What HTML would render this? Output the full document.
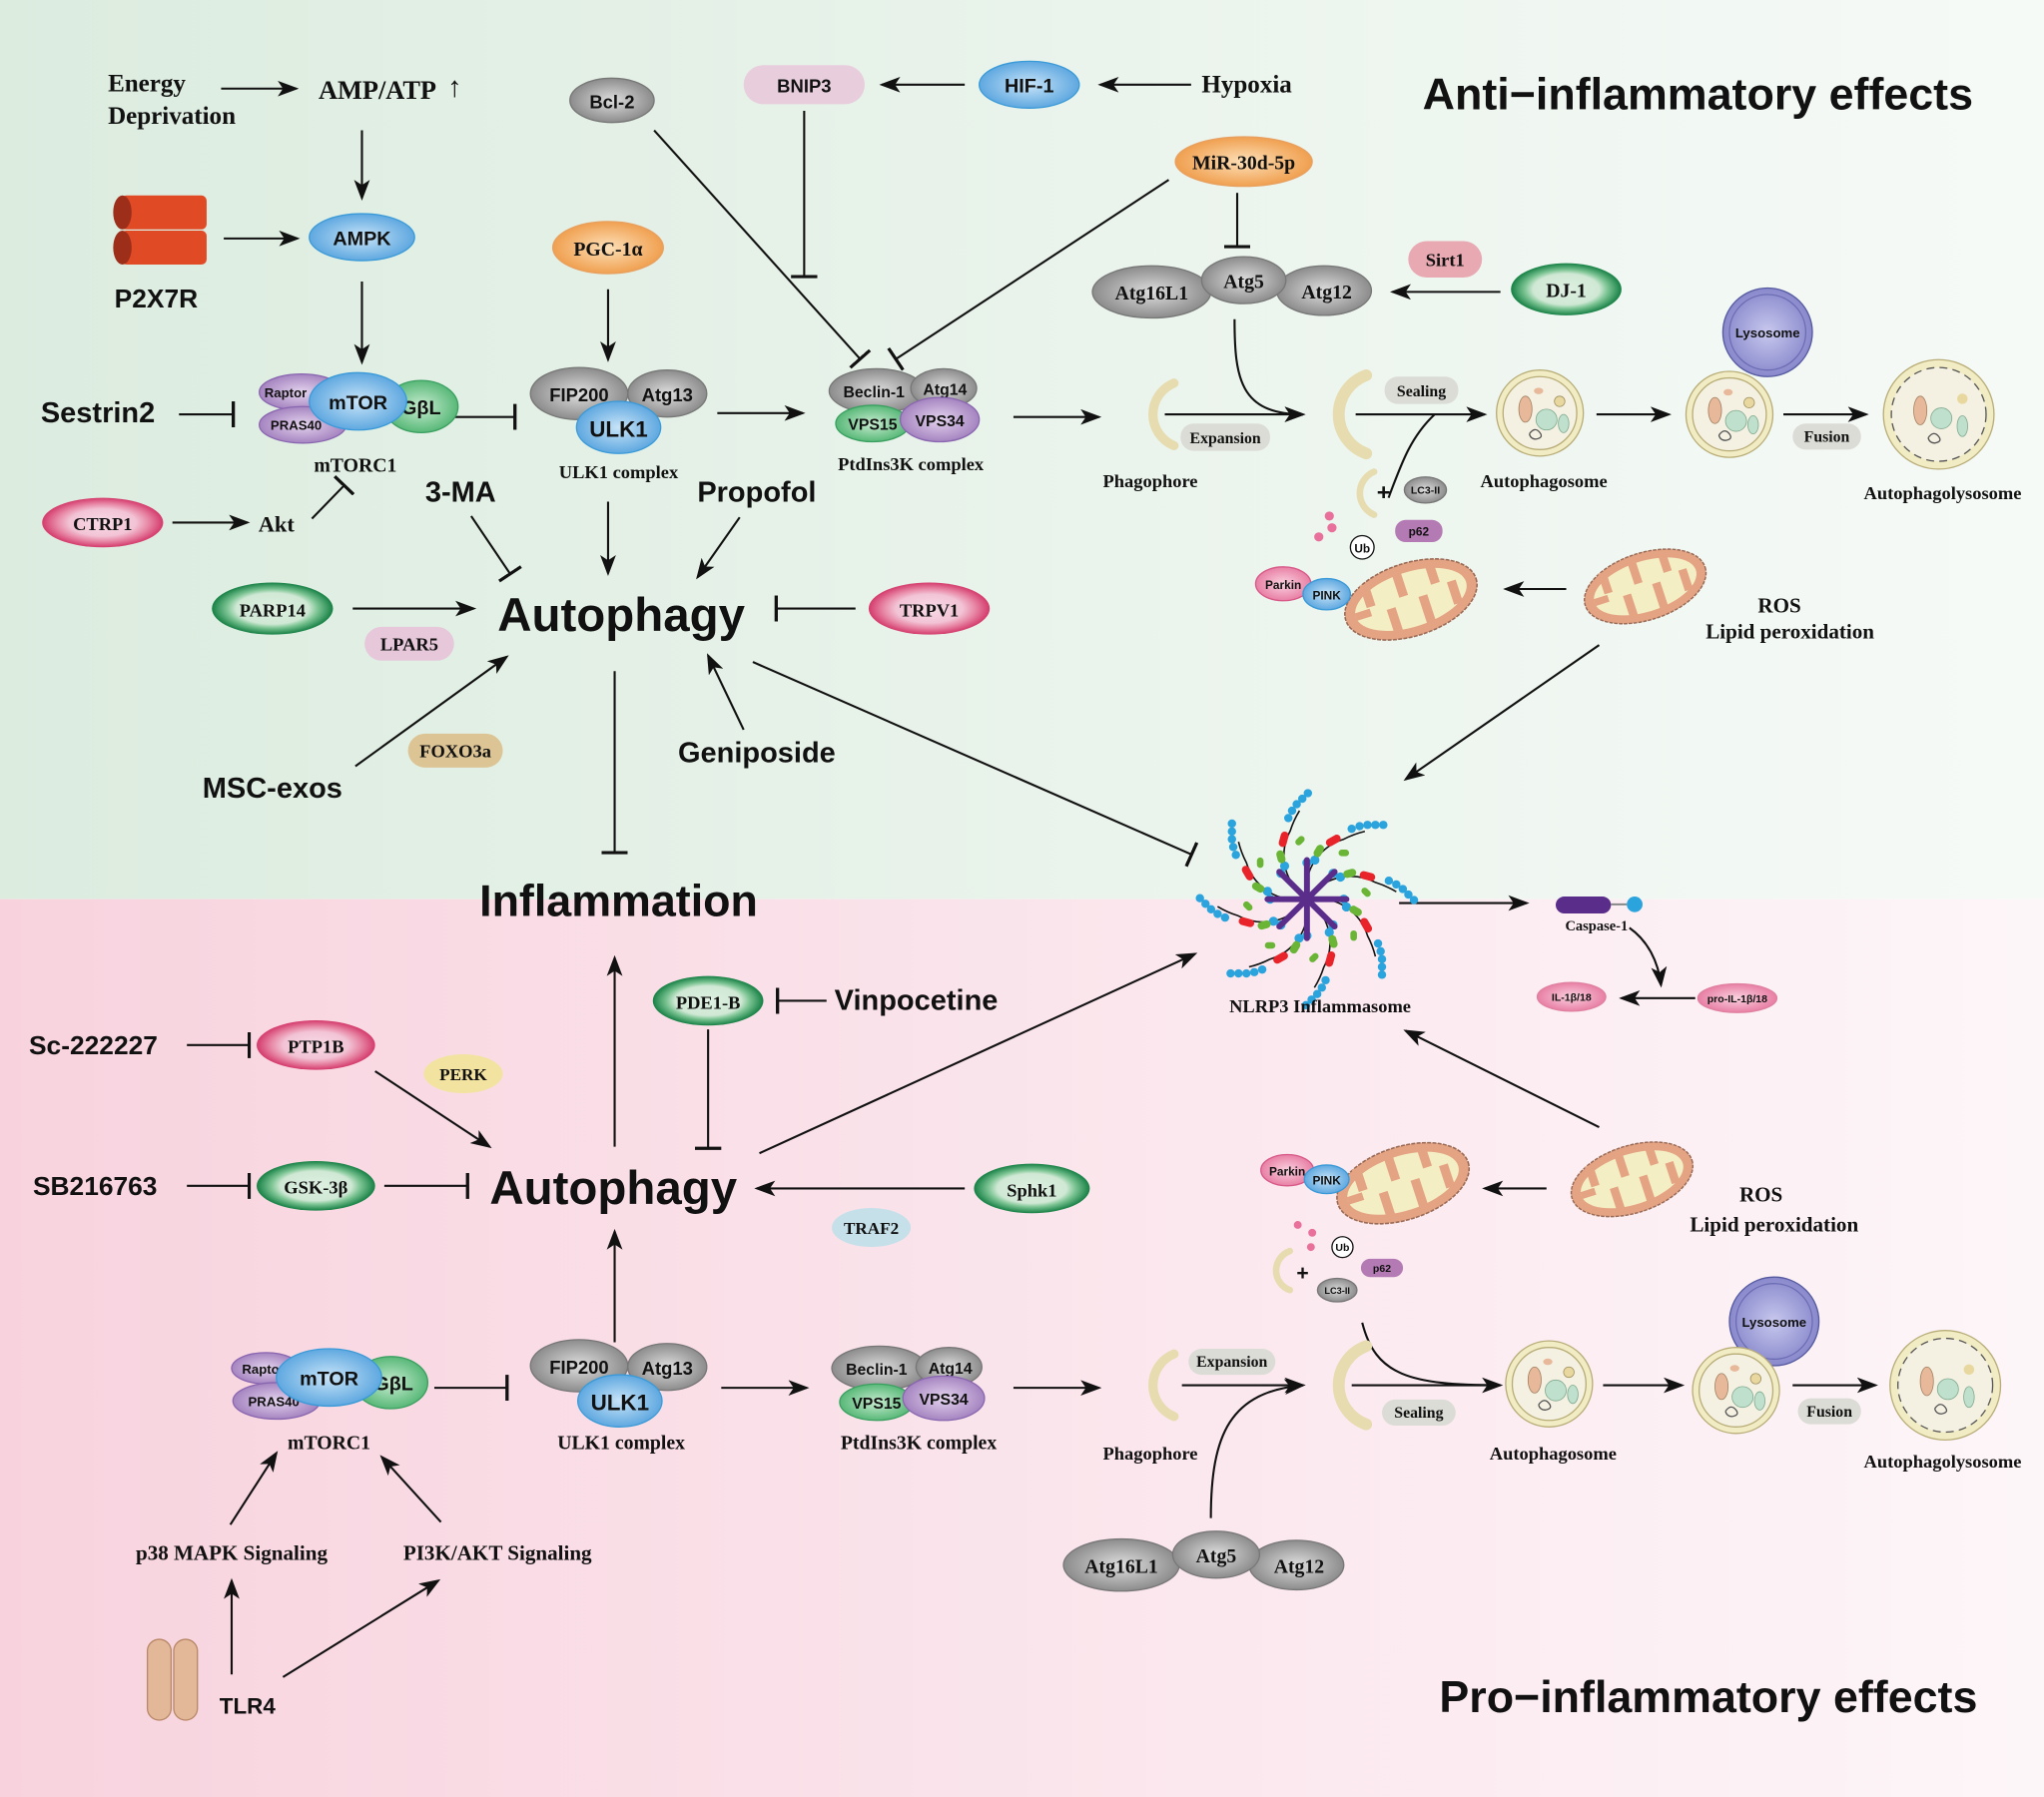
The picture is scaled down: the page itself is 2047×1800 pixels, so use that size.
<!DOCTYPE html>
<html><head><meta charset="utf-8"><style>
html,body{margin:0;padding:0;}
svg{display:block;}
.s{font-family:"Liberation Sans",sans-serif;font-weight:bold;fill:#111;}
.r{font-family:"Liberation Serif",serif;font-weight:bold;fill:#111;}
</style></head><body>
<svg width="2047" height="1800" viewBox="0 0 1553 1379" preserveAspectRatio="none" xmlns="http://www.w3.org/2000/svg">
<defs>
<linearGradient id="bgT" x1="0" x2="1" y1="0" y2="0"><stop offset="0" stop-color="#dcecdf"/><stop offset="1" stop-color="#f6faf7"/></linearGradient>
<linearGradient id="bgB" x1="0" x2="1" y1="0" y2="0"><stop offset="0" stop-color="#f8d3de"/><stop offset="1" stop-color="#fdf6f9"/></linearGradient>
<radialGradient id="gG"><stop offset="0" stop-color="#dedede"/><stop offset="1" stop-color="#8c8c8c"/></radialGradient>
<radialGradient id="gB"><stop offset="0" stop-color="#c8e4f8"/><stop offset="1" stop-color="#5fa8e0"/></radialGradient>
<radialGradient id="gP"><stop offset="0" stop-color="#e4d4ee"/><stop offset="1" stop-color="#a584c0"/></radialGradient>
<radialGradient id="gGr"><stop offset="0" stop-color="#c8ecd0"/><stop offset="1" stop-color="#58b878"/></radialGradient>
<radialGradient id="gO"><stop offset="0" stop-color="#fde0b8"/><stop offset="1" stop-color="#f0a050"/></radialGradient>
<radialGradient id="gRing"><stop offset="0" stop-color="#dff0e2"/><stop offset="0.6" stop-color="#cfe8d4"/><stop offset="0.75" stop-color="#7cc493"/><stop offset="1" stop-color="#168044"/></radialGradient>
<radialGradient id="pRing"><stop offset="0" stop-color="#f8dbe6"/><stop offset="0.55" stop-color="#f2c4d5"/><stop offset="0.75" stop-color="#e88aa8"/><stop offset="1" stop-color="#d43a6c"/></radialGradient>
<radialGradient id="gPk"><stop offset="0" stop-color="#fad2e0"/><stop offset="1" stop-color="#e87fa4"/></radialGradient>
<radialGradient id="gLy"><stop offset="0" stop-color="#c8c8ee"/><stop offset="1" stop-color="#8888cc"/></radialGradient>
<marker id="a" markerWidth="16" markerHeight="12" refX="14" refY="6" orient="auto" markerUnits="userSpaceOnUse"><path d="M0,0 L16,6 L0,12 L4,6 Z" fill="#111"/></marker>
<marker id="t" markerWidth="4" markerHeight="20" refX="2" refY="10" orient="auto" markerUnits="userSpaceOnUse"><rect x="0" y="0" width="2.5" height="20" fill="#111"/></marker>
<g id="cres"><path d="M14,-24 A26,26 0 0 0 14,24" fill="none" stroke="#e6dcb0" stroke-width="7" stroke-linecap="round"/></g>
<g id="cresL"><path d="M18,-30 A32,32 0 0 0 18,30" fill="none" stroke="#e6dcb0" stroke-width="9" stroke-linecap="round"/></g>
<g id="cell"><circle r="33" fill="#f2ecc4" stroke="#b8ad78" stroke-width="1"/><circle r="28" fill="#f4f1e2" stroke="#b8ad78" stroke-width="1"/><ellipse cx="-11" cy="-3" rx="5" ry="10" fill="#e8b89a" stroke="#a08060" stroke-width=".6"/><circle cx="5" cy="5" r="8" fill="#bfe0cc" stroke="#80a890" stroke-width=".6"/><ellipse cx="18" cy="8" rx="4" ry="7" fill="#bfe0cc" stroke="#80a890" stroke-width=".6"/><circle cx="15" cy="-9" r="4" fill="#e8d8a0" stroke="#a09060" stroke-width=".6"/><ellipse cx="-1" cy="-17" rx="3.5" ry="2.5" fill="#e8b89a"/><path d="M-8,16 q4,-6 8,-1 q3,4 -3,5 q-4,0 -5,-4" fill="none" stroke="#555" stroke-width="1"/></g>
<g id="alys"><circle r="42" fill="#f2ecc4" stroke="#b8ad78" stroke-width="1"/><circle r="36" fill="#f4f1e2" stroke="#555" stroke-width="1" stroke-dasharray="6 4"/><ellipse cx="-14" cy="-3" rx="5" ry="11" fill="#e8b89a" stroke="#a08060" stroke-width=".6"/><circle cx="2" cy="3" r="8" fill="#bfe0cc" stroke="#80a890" stroke-width=".6"/><ellipse cx="18" cy="9" rx="4" ry="8" fill="#bfe0cc" stroke="#80a890" stroke-width=".6"/><circle cx="18" cy="-12" r="4" fill="#e8d8a0"/><path d="M-8,18 q4,-6 8,-1 q3,4 -3,5 q-4,0 -5,-4" fill="none" stroke="#555" stroke-width="1"/></g>
<g id="mito"><ellipse rx="52" ry="28" fill="#e4a484" stroke="#9a6a55" stroke-width="1.2" stroke-dasharray="3 1"/><ellipse rx="44" ry="21" fill="#f4eec4"/><g fill="#e4a484"><rect x="-34" y="-22" width="7" height="18"/><rect x="-20" y="2" width="7" height="20"/><rect x="-8" y="-22" width="7" height="18"/><rect x="6" y="0" width="7" height="22"/><rect x="18" y="-22" width="7" height="16"/><rect x="30" y="-4" width="7" height="18"/><rect x="-44" y="-3" width="12" height="6"/></g></g>
<g id="arm"><path d="M0,-14 A40,40 0 0 1 28,-46 A70,70 0 0 1 44,-52" fill="none" stroke="#111" stroke-width="1.2"/><g fill="#2ba3dd"><circle cx="0" cy="-28" r="3.5"/><circle cx="6" cy="-30" r="3.5"/><circle cx="34" cy="-54" r="3.2"/><circle cx="40" cy="-56" r="3.2"/><circle cx="46" cy="-57" r="3.2"/><circle cx="52" cy="-57" r="3.2"/><circle cx="58" cy="-57" r="3.2"/></g><rect x="14" y="-48" width="12" height="6" rx="3" fill="#e8232a" transform="rotate(-30 20 -45)"/><rect x="4" y="-40" width="10" height="6" rx="3" fill="#6bb536" transform="rotate(-60 9 -37)"/><rect x="24" y="-38" width="8" height="5" rx="2.5" fill="#6bb536"/></g>
</defs>

<rect x="0" y="0" width="1553" height="690" fill="url(#bgT)"/>
<rect x="0" y="690" width="1553" height="689" fill="url(#bgB)"/>

<g stroke="#111" stroke-width="1.6" fill="none">
<!-- top connectors -->
<line x1="168" y1="68" x2="225" y2="68" marker-end="url(#a)"/>
<line x1="275" y1="100" x2="275" y2="152" marker-end="url(#a)"/>
<line x1="170" y1="183" x2="226" y2="183" marker-end="url(#a)"/>
<line x1="275" y1="216" x2="275" y2="278" marker-end="url(#a)"/>
<line x1="136" y1="318" x2="178" y2="318" marker-end="url(#t)"/>
<line x1="342" y1="320" x2="392" y2="320" marker-end="url(#t)"/>
<line x1="462" y1="222" x2="462" y2="276" marker-end="url(#a)"/>
<line x1="497" y1="100" x2="654" y2="276" marker-end="url(#t)"/>
<line x1="611" y1="85" x2="611" y2="213" marker-end="url(#t)"/>
<line x1="733" y1="65" x2="670" y2="65" marker-end="url(#a)"/>
<line x1="905" y1="65" x2="836" y2="65" marker-end="url(#a)"/>
<line x1="940" y1="148" x2="940" y2="190" marker-end="url(#t)"/>
<line x1="888" y1="138" x2="680" y2="276" marker-end="url(#t)"/>
<line x1="545" y1="317" x2="610" y2="317" marker-end="url(#a)"/>
<line x1="770" y1="320" x2="835" y2="320" marker-end="url(#a)"/>
<line x1="1140" y1="224" x2="1058" y2="224" marker-end="url(#a)"/>
<path d="M938,245 C938,290 942,318 990,318" marker-end="url(#a)"/>
<line x1="885" y1="318" x2="990" y2="318" marker-end="url(#a)"/>
<line x1="1030" y1="318" x2="1128" y2="318" marker-end="url(#a)"/>
<path d="M1055,382 C1065,355 1072,335 1090,318"/>
<line x1="1213" y1="318" x2="1268" y2="318" marker-end="url(#a)"/>
<line x1="1355" y1="318" x2="1418" y2="318" marker-end="url(#a)"/>
<line x1="1190" y1="452" x2="1144" y2="452" marker-end="url(#a)"/>
<line x1="1215" y1="495" x2="1068" y2="598" marker-end="url(#a)"/>
<line x1="131" y1="401" x2="188" y2="401" marker-end="url(#a)"/>
<line x1="237" y1="398" x2="262" y2="372" marker-end="url(#t)"/>
<line x1="358" y1="396" x2="388" y2="441" marker-end="url(#t)"/>
<line x1="462" y1="385" x2="462" y2="440" marker-end="url(#a)"/>
<line x1="562" y1="397" x2="530" y2="443" marker-end="url(#a)"/>
<line x1="268" y1="467" x2="360" y2="467" marker-end="url(#a)"/>
<line x1="650" y1="467" x2="589" y2="467" marker-end="url(#t)"/>
<line x1="270" y1="588" x2="385" y2="504" marker-end="url(#a)"/>
<line x1="565" y1="560" x2="538" y2="503" marker-end="url(#a)"/>
<line x1="467" y1="515" x2="467" y2="655" marker-end="url(#t)"/>
<line x1="572" y1="508" x2="906" y2="656" marker-end="url(#t)"/>
<line x1="1063" y1="693" x2="1160" y2="693" marker-end="url(#a)"/>
<path d="M1238,712 C1252,722 1260,738 1262,756" marker-end="url(#a)"/>
<line x1="1288" y1="766" x2="1232" y2="766" marker-end="url(#a)"/>
<!-- bottom -->
<line x1="467" y1="880" x2="467" y2="735" marker-end="url(#a)"/>
<line x1="628" y1="768" x2="590" y2="768" marker-end="url(#t)"/>
<line x1="538" y1="790" x2="538" y2="882" marker-end="url(#t)"/>
<line x1="142" y1="802" x2="190" y2="802" marker-end="url(#t)"/>
<line x1="285" y1="822" x2="372" y2="880" marker-end="url(#a)"/>
<line x1="142" y1="910" x2="190" y2="910" marker-end="url(#t)"/>
<line x1="292" y1="910" x2="356" y2="910" marker-end="url(#t)"/>
<line x1="733" y1="912" x2="575" y2="912" marker-end="url(#a)"/>
<line x1="577" y1="885" x2="908" y2="732" marker-end="url(#a)"/>
<line x1="1215" y1="865" x2="1068" y2="791" marker-end="url(#a)"/>
<line x1="1175" y1="912" x2="1128" y2="912" marker-end="url(#a)"/>
<path d="M1035,1015 C1045,1055 1070,1063 1140,1063" marker-end="url(#a)"/>
<line x1="467" y1="1030" x2="467" y2="945" marker-end="url(#a)"/>
<line x1="330" y1="1065" x2="386" y2="1065" marker-end="url(#t)"/>
<line x1="548" y1="1065" x2="613" y2="1065" marker-end="url(#a)"/>
<line x1="770" y1="1065" x2="835" y2="1065" marker-end="url(#a)"/>
<line x1="898" y1="1063" x2="990" y2="1063" marker-end="url(#a)"/>
<path d="M920,1165 C920,1100 935,1068 990,1063" marker-end="url(#a)"/>
<line x1="1027" y1="1063" x2="1138" y2="1063"/>
<line x1="1218" y1="1063" x2="1278" y2="1063" marker-end="url(#a)"/>
<line x1="1362" y1="1063" x2="1425" y2="1063" marker-end="url(#a)"/>
<line x1="175" y1="1170" x2="210" y2="1115" marker-end="url(#a)"/>
<line x1="335" y1="1168" x2="290" y2="1118" marker-end="url(#a)"/>
<line x1="176" y1="1285" x2="176" y2="1213" marker-end="url(#a)"/>
<line x1="215" y1="1287" x2="333" y2="1213" marker-end="url(#a)"/>
</g>

<!-- TOP nodes -->
<text class="r" x="82" y="70" font-size="19">Energy</text>
<text class="r" x="82" y="95" font-size="19">Deprivation</text>
<text class="r" x="242" y="76" font-size="20">AMP/ATP</text>
<text class="r" x="340" y="74" font-size="22" font-weight="normal">↑</text>
<g><rect x="92" y="150" width="65" height="26" rx="4" fill="#e04a25"/><rect x="92" y="177" width="65" height="26" rx="4" fill="#e04a25"/><ellipse cx="93" cy="163" rx="7" ry="13" fill="#9c2e1a"/><ellipse cx="93" cy="190" rx="7" ry="13" fill="#9c2e1a"/></g>
<text class="s" x="87" y="236" font-size="20">P2X7R</text>
<ellipse cx="275" cy="182" rx="40" ry="18" fill="url(#gB)" stroke="#3a9ad8"/><text class="s" x="275" y="188" font-size="15" text-anchor="middle">AMPK</text>
<text class="s" x="31" y="324" font-size="22">Sestrin2</text>
<ellipse cx="229" cy="301" rx="32" ry="14" fill="url(#gP)" stroke="#8a66b0"/><text class="s" x="217" y="305" font-size="10" text-anchor="middle">Raptor</text>
<ellipse cx="230" cy="326" rx="33" ry="14" fill="url(#gP)" stroke="#8a66b0"/><text class="s" x="225" y="330" font-size="10" text-anchor="middle">PRAS40</text>
<ellipse cx="320" cy="312" rx="28" ry="20" fill="url(#gGr)" stroke="#3aa060"/><text class="s" x="320" y="318" font-size="15" text-anchor="middle">GβL</text>
<ellipse cx="272" cy="308" rx="37" ry="22" fill="url(#gB)" stroke="#3a9ad8"/><text class="s" x="272" y="314" font-size="15" text-anchor="middle">mTOR</text>
<text class="r" x="270" y="362" font-size="15" text-anchor="middle">mTORC1</text>
<ellipse cx="440" cy="302" rx="37" ry="20" fill="url(#gG)" stroke="#777"/><text class="s" x="440" y="308" font-size="14" text-anchor="middle">FIP200</text>
<ellipse cx="507" cy="302" rx="30" ry="18" fill="url(#gG)" stroke="#777"/><text class="s" x="507" y="308" font-size="14" text-anchor="middle">Atg13</text>
<ellipse cx="470" cy="328" rx="32" ry="20" fill="url(#gB)" stroke="#3a9ad8"/><text class="s" x="470" y="335" font-size="17" text-anchor="middle">ULK1</text>
<text class="r" x="470" y="367" font-size="14" text-anchor="middle">ULK1 complex</text>
<ellipse cx="462" cy="190" rx="42" ry="20" fill="url(#gO)" stroke="#e8a060"/><text class="r" x="462" y="196" font-size="15" text-anchor="middle">PGC-1α</text>
<ellipse cx="465" cy="77" rx="32" ry="17" fill="url(#gG)" stroke="#777"/><text class="s" x="465" y="83" font-size="14" text-anchor="middle">Bcl-2</text>
<rect x="565" y="50" width="92" height="30" rx="15" fill="#e8cedd"/><text class="s" x="611" y="71" font-size="14" text-anchor="middle">BNIP3</text>
<ellipse cx="782" cy="65" rx="38" ry="18" fill="url(#gB)" stroke="#3a9ad8"/><text class="s" x="782" y="71" font-size="15" text-anchor="middle">HIF-1</text>
<text class="r" x="913" y="71" font-size="19">Hypoxia</text>
<ellipse cx="945" cy="124" rx="52" ry="19" fill="url(#gO)" stroke="#e8a060"/><text class="r" x="945" y="130" font-size="15" text-anchor="middle">MiR-30d-5p</text>
<ellipse cx="666" cy="300" rx="36" ry="17" fill="url(#gG)" stroke="#777"/><text class="s" x="664" y="305" font-size="12" text-anchor="middle">Beclin-1</text>
<ellipse cx="717" cy="298" rx="25" ry="15" fill="url(#gG)" stroke="#777"/><text class="s" x="718" y="303" font-size="12" text-anchor="middle">Atg14</text>
<ellipse cx="663" cy="325" rx="28" ry="14" fill="url(#gGr)" stroke="#3aa060"/><text class="s" x="663" y="330" font-size="12" text-anchor="middle">VPS15</text>
<ellipse cx="714" cy="322" rx="30" ry="17" fill="url(#gP)" stroke="#8a66b0"/><text class="s" x="714" y="327" font-size="12" text-anchor="middle">VPS34</text>
<text class="r" x="692" y="361" font-size="14" text-anchor="middle">PtdIns3K complex</text>
<ellipse cx="875" cy="224" rx="45" ry="20" fill="url(#gG)" stroke="#777"/><text class="r" x="875" y="230" font-size="15" text-anchor="middle">Atg16L1</text>
<ellipse cx="1006" cy="223" rx="36" ry="19" fill="url(#gG)" stroke="#777"/><text class="r" x="1008" y="229" font-size="15" text-anchor="middle">Atg12</text>
<ellipse cx="945" cy="215" rx="32" ry="18" fill="url(#gG)" stroke="#777"/><text class="r" x="945" y="221" font-size="15" text-anchor="middle">Atg5</text>
<rect x="1070" y="185" width="56" height="28" rx="14" fill="#e8a9b2"/><text class="r" x="1098" y="204" font-size="14" text-anchor="middle">Sirt1</text>
<ellipse cx="1190" cy="222" rx="42" ry="20" fill="url(#gRing)"/><text class="r" x="1190" y="228" font-size="15" text-anchor="middle">DJ-1</text>
<use href="#cres" x="878" y="318"/>
<text class="r" x="874" y="374" font-size="14" text-anchor="middle">Phagophore</text>
<rect x="897" y="325" width="68" height="21" rx="10" fill="#dcdcd6"/><text class="r" x="931" y="340" font-size="12" text-anchor="middle">Expansion</text>
<use href="#cresL" x="1020" y="318"/>
<rect x="1052" y="289" width="56" height="21" rx="10" fill="#dcdcd6"/><text class="r" x="1080" y="304" font-size="12" text-anchor="middle">Sealing</text>
<use href="#cell" x="1170" y="317"/>
<text class="r" x="1173" y="374" font-size="14" text-anchor="middle">Autophagosome</text>
<circle cx="1343" cy="255" r="34" fill="url(#gLy)" stroke="#555aa0"/><circle cx="1343" cy="255" r="29" fill="none" stroke="#6c6cb4"/><text class="s" x="1343" y="259" font-size="10" text-anchor="middle">Lysosome</text>
<use href="#cell" x="1314" y="318"/>
<rect x="1362" y="325" width="52" height="20" rx="10" fill="#dcdcd6"/><text class="r" x="1388" y="339" font-size="12" text-anchor="middle">Fusion</text>
<use href="#alys" x="1473" y="318"/>
<text class="r" x="1476" y="383" font-size="14" text-anchor="middle">Autophagolysosome</text>
<path d="M1044,362 A18,18 0 0 0 1044,395" fill="none" stroke="#e6dcb0" stroke-width="5" stroke-linecap="round"/>
<text class="s" x="1046" y="384" font-size="18">+</text>
<ellipse cx="1083" cy="376" rx="16" ry="10" fill="url(#gG)" stroke="#777"/><text class="s" x="1083" y="379" font-size="8" text-anchor="middle">LC3-II</text>
<rect x="1060" y="399" width="36" height="17" rx="8" fill="#b47ab4"/><text class="s" x="1078" y="411" font-size="9" text-anchor="middle">p62</text>
<g fill="#e8709a"><circle cx="1010" cy="396" r="3.5"/><circle cx="1012" cy="405" r="3.5"/><circle cx="1002" cy="412" r="3.5"/></g>
<circle cx="1035" cy="420" r="9" fill="#fff" stroke="#111"/><text class="s" x="1035" y="424" font-size="9" text-anchor="middle">Ub</text>
<use href="#mito" transform="translate(1072,460) rotate(-18)"/>
<ellipse cx="975" cy="448" rx="21" ry="13" fill="url(#gPk)" stroke="#d85888"/><text class="s" x="975" y="452" font-size="9" text-anchor="middle">Parkin</text>
<ellipse cx="1008" cy="456" rx="18" ry="12" fill="url(#gB)" stroke="#3a9ad8"/><text class="s" x="1008" y="460" font-size="9" text-anchor="middle">PINK</text>
<use href="#mito" transform="translate(1250,450) rotate(-18) scale(0.92)"/>
<text class="r" x="1352" y="470" font-size="16" text-anchor="middle">ROS</text>
<text class="r" x="1360" y="490" font-size="16" text-anchor="middle">Lipid peroxidation</text>
<text class="s" x="1290" y="84" font-size="34" text-anchor="middle">Anti−inflammatory effects</text>
<text class="s" x="350" y="385" font-size="22" text-anchor="middle">3-MA</text>
<text class="s" x="575" y="385" font-size="22" text-anchor="middle">Propofol</text>
<text class="r" x="210" y="408" font-size="17" text-anchor="middle">Akt</text>
<ellipse cx="78" cy="401" rx="46" ry="19" fill="url(#pRing)"/><text class="r" x="78" y="407" font-size="14" text-anchor="middle">CTRP1</text>
<ellipse cx="207" cy="467" rx="46" ry="20" fill="url(#gRing)"/><text class="r" x="207" y="473" font-size="14" text-anchor="middle">PARP14</text>
<rect x="277" y="481" width="68" height="26" rx="13" fill="#e6c8da"/><text class="r" x="311" y="499" font-size="14" text-anchor="middle">LPAR5</text>
<text class="s" x="472" y="484" font-size="36" text-anchor="middle">Autophagy</text>
<ellipse cx="706" cy="467" rx="46" ry="20" fill="url(#pRing)"/><text class="r" x="706" y="473" font-size="14" text-anchor="middle">TRPV1</text>
<text class="s" x="207" y="612" font-size="22" text-anchor="middle">MSC-exos</text>
<rect x="310" y="563" width="72" height="26" rx="13" fill="#dcc494"/><text class="r" x="346" y="581" font-size="14" text-anchor="middle">FOXO3a</text>
<text class="s" x="575" y="585" font-size="22" text-anchor="middle">Geniposide</text>
<text class="s" x="470" y="703" font-size="34" text-anchor="middle">Inflammation</text>

<!-- NLRP3 -->
<g transform="translate(993,690)">
<use href="#arm"/><use href="#arm" transform="rotate(45)"/><use href="#arm" transform="rotate(90)"/><use href="#arm" transform="rotate(135)"/><use href="#arm" transform="rotate(180)"/><use href="#arm" transform="rotate(225)"/><use href="#arm" transform="rotate(270)"/><use href="#arm" transform="rotate(315)"/>
<g stroke="#5b2d8a" stroke-width="4.5" stroke-linecap="round"><line x1="-30" y1="0" x2="30" y2="0"/><line x1="0" y1="-30" x2="0" y2="30"/><line x1="-21" y1="-21" x2="21" y2="21"/><line x1="-21" y1="21" x2="21" y2="-21"/></g>
</g>
<text class="r" x="1003" y="777" font-size="14" text-anchor="middle">NLRP3 Inflammasome</text>
<rect x="1182" y="688" width="42" height="13" rx="6.5" fill="#5b2d8a"/><line x1="1224" y1="694" x2="1236" y2="694" stroke="#888" stroke-width="1.5"/><circle cx="1242" cy="694" r="6" fill="#2ba3dd"/>
<text class="r" x="1213" y="714" font-size="11" text-anchor="middle">Caspase-1</text>
<ellipse cx="1320" cy="766" rx="30" ry="11" fill="url(#gPk)" stroke="#e080a0"/><text class="s" x="1320" y="769" font-size="8" text-anchor="middle">pro-IL-1β/18</text>
<ellipse cx="1194" cy="765" rx="26" ry="11" fill="url(#gPk)" stroke="#e080a0"/><text class="s" x="1194" y="768" font-size="8" text-anchor="middle">IL-1β/18</text>

<!-- BOTTOM nodes -->
<ellipse cx="538" cy="768" rx="42" ry="19" fill="url(#gRing)"/><text class="r" x="538" y="774" font-size="14" text-anchor="middle">PDE1-B</text>
<text class="s" x="634" y="775" font-size="22">Vinpocetine</text>
<text class="s" x="22" y="809" font-size="20">Sc-222227</text>
<ellipse cx="240" cy="802" rx="45" ry="19" fill="url(#pRing)"/><text class="r" x="240" y="808" font-size="14" text-anchor="middle">PTP1B</text>
<ellipse cx="352" cy="824" rx="30" ry="15" fill="#f2e3a0"/><text class="r" x="352" y="829" font-size="13" text-anchor="middle">PERK</text>
<text class="s" x="25" y="917" font-size="20">SB216763</text>
<ellipse cx="240" cy="910" rx="45" ry="19" fill="url(#gRing)"/><text class="r" x="240" y="916" font-size="14" text-anchor="middle">GSK-3β</text>
<text class="s" x="466" y="924" font-size="36" text-anchor="middle">Autophagy</text>
<ellipse cx="784" cy="912" rx="44" ry="19" fill="url(#gRing)"/><text class="r" x="784" y="918" font-size="14" text-anchor="middle">Sphk1</text>
<ellipse cx="662" cy="942" rx="30" ry="15" fill="#c6e0ea"/><text class="r" x="662" y="947" font-size="13" text-anchor="middle">TRAF2</text>
<use href="#mito" transform="translate(1066,908) rotate(-18)"/>
<ellipse cx="978" cy="898" rx="20" ry="12" fill="url(#gPk)" stroke="#d85888"/><text class="s" x="978" y="902" font-size="9" text-anchor="middle">Parkin</text>
<ellipse cx="1008" cy="905" rx="17" ry="11" fill="url(#gB)" stroke="#3a9ad8"/><text class="s" x="1008" y="909" font-size="9" text-anchor="middle">PINK</text>
<use href="#mito" transform="translate(1240,905) rotate(-18) scale(0.92)"/>
<text class="r" x="1338" y="922" font-size="16" text-anchor="middle">ROS</text>
<text class="r" x="1348" y="945" font-size="16" text-anchor="middle">Lipid peroxidation</text>
<g fill="#e8709a"><circle cx="986" cy="940" r="3"/><circle cx="997" cy="946" r="3"/><circle cx="996" cy="957" r="3"/></g>
<circle cx="1020" cy="957" r="8" fill="#fff" stroke="#111"/><text class="s" x="1020" y="960" font-size="8" text-anchor="middle">Ub</text>
<rect x="1034" y="966" width="32" height="14" rx="7" fill="#b47ab4"/><text class="s" x="1050" y="976" font-size="8" text-anchor="middle">p62</text>
<path d="M980,960 A16,16 0 0 0 980,990" fill="none" stroke="#e6dcb0" stroke-width="5" stroke-linecap="round"/>
<text class="s" x="985" y="982" font-size="16">+</text>
<ellipse cx="1016" cy="990" rx="15" ry="9" fill="url(#gG)" stroke="#777"/><text class="s" x="1016" y="993" font-size="7" text-anchor="middle">LC3-II</text>
<ellipse cx="202" cy="1050" rx="26" ry="12" fill="url(#gP)" stroke="#8a66b0"/><text class="s" x="200" y="1054" font-size="10" text-anchor="middle">Raptor</text>
<ellipse cx="210" cy="1075" rx="33" ry="14" fill="url(#gP)" stroke="#8a66b0"/><text class="s" x="208" y="1079" font-size="10" text-anchor="middle">PRAS40</text>
<ellipse cx="297" cy="1061" rx="28" ry="20" fill="url(#gGr)" stroke="#3aa060"/><text class="s" x="299" y="1067" font-size="15" text-anchor="middle">GβL</text>
<ellipse cx="250" cy="1057" rx="40" ry="22" fill="url(#gB)" stroke="#3a9ad8"/><text class="s" x="250" y="1063" font-size="15" text-anchor="middle">mTOR</text>
<text class="r" x="250" y="1112" font-size="15" text-anchor="middle">mTORC1</text>
<ellipse cx="440" cy="1048" rx="37" ry="20" fill="url(#gG)" stroke="#777"/><text class="s" x="440" y="1054" font-size="14" text-anchor="middle">FIP200</text>
<ellipse cx="507" cy="1049" rx="30" ry="18" fill="url(#gG)" stroke="#777"/><text class="s" x="507" y="1055" font-size="14" text-anchor="middle">Atg13</text>
<ellipse cx="471" cy="1075" rx="32" ry="20" fill="url(#gB)" stroke="#3a9ad8"/><text class="s" x="471" y="1082" font-size="17" text-anchor="middle">ULK1</text>
<text class="r" x="472" y="1112" font-size="15" text-anchor="middle">ULK1 complex</text>
<ellipse cx="668" cy="1050" rx="36" ry="17" fill="url(#gG)" stroke="#777"/><text class="s" x="666" y="1055" font-size="12" text-anchor="middle">Beclin-1</text>
<ellipse cx="721" cy="1049" rx="25" ry="15" fill="url(#gG)" stroke="#777"/><text class="s" x="722" y="1054" font-size="12" text-anchor="middle">Atg14</text>
<ellipse cx="666" cy="1076" rx="28" ry="14" fill="url(#gGr)" stroke="#3aa060"/><text class="s" x="666" y="1081" font-size="12" text-anchor="middle">VPS15</text>
<ellipse cx="717" cy="1073" rx="31" ry="17" fill="url(#gP)" stroke="#8a66b0"/><text class="s" x="717" y="1078" font-size="12" text-anchor="middle">VPS34</text>
<text class="r" x="698" y="1112" font-size="15" text-anchor="middle">PtdIns3K complex</text>
<use href="#cres" x="878" y="1063"/>
<text class="r" x="874" y="1120" font-size="14" text-anchor="middle">Phagophore</text>
<rect x="903" y="1035" width="66" height="20" rx="10" fill="#dcdcd6"/><text class="r" x="936" y="1049" font-size="12" text-anchor="middle">Expansion</text>
<use href="#cresL" x="1020" y="1063"/>
<rect x="1050" y="1074" width="56" height="20" rx="10" fill="#dcdcd6"/><text class="r" x="1078" y="1088" font-size="12" text-anchor="middle">Sealing</text>
<use href="#cell" x="1177" y="1062"/>
<text class="r" x="1180" y="1120" font-size="14" text-anchor="middle">Autophagosome</text>
<circle cx="1348" cy="1014" r="34" fill="url(#gLy)" stroke="#555aa0"/><circle cx="1348" cy="1014" r="29" fill="none" stroke="#6c6cb4"/><text class="s" x="1348" y="1018" font-size="10" text-anchor="middle">Lysosome</text>
<use href="#cell" x="1319" y="1067"/>
<rect x="1366" y="1073" width="48" height="20" rx="10" fill="#dcdcd6"/><text class="r" x="1390" y="1087" font-size="12" text-anchor="middle">Fusion</text>
<use href="#alys" x="1478" y="1063"/>
<text class="r" x="1476" y="1126" font-size="14" text-anchor="middle">Autophagolysosome</text>
<ellipse cx="852" cy="1201" rx="44" ry="20" fill="url(#gG)" stroke="#777"/><text class="r" x="852" y="1207" font-size="15" text-anchor="middle">Atg16L1</text>
<ellipse cx="985" cy="1201" rx="36" ry="19" fill="url(#gG)" stroke="#777"/><text class="r" x="987" y="1207" font-size="15" text-anchor="middle">Atg12</text>
<ellipse cx="924" cy="1193" rx="33" ry="18" fill="url(#gG)" stroke="#777"/><text class="r" x="924" y="1199" font-size="15" text-anchor="middle">Atg5</text>
<text class="r" x="176" y="1197" font-size="16" text-anchor="middle">p38 MAPK Signaling</text>
<text class="r" x="378" y="1197" font-size="16" text-anchor="middle">PI3K/AKT Signaling</text>
<g fill="#e2b898" stroke="#b88868"><rect x="112" y="1258" width="18" height="62" rx="9"/><rect x="132" y="1258" width="18" height="62" rx="9"/></g>
<text class="s" x="188" y="1315" font-size="17" text-anchor="middle">TLR4</text>
<text class="s" x="1298" y="1314" font-size="34" text-anchor="middle">Pro−inflammatory effects</text>
</svg>
</body></html>
